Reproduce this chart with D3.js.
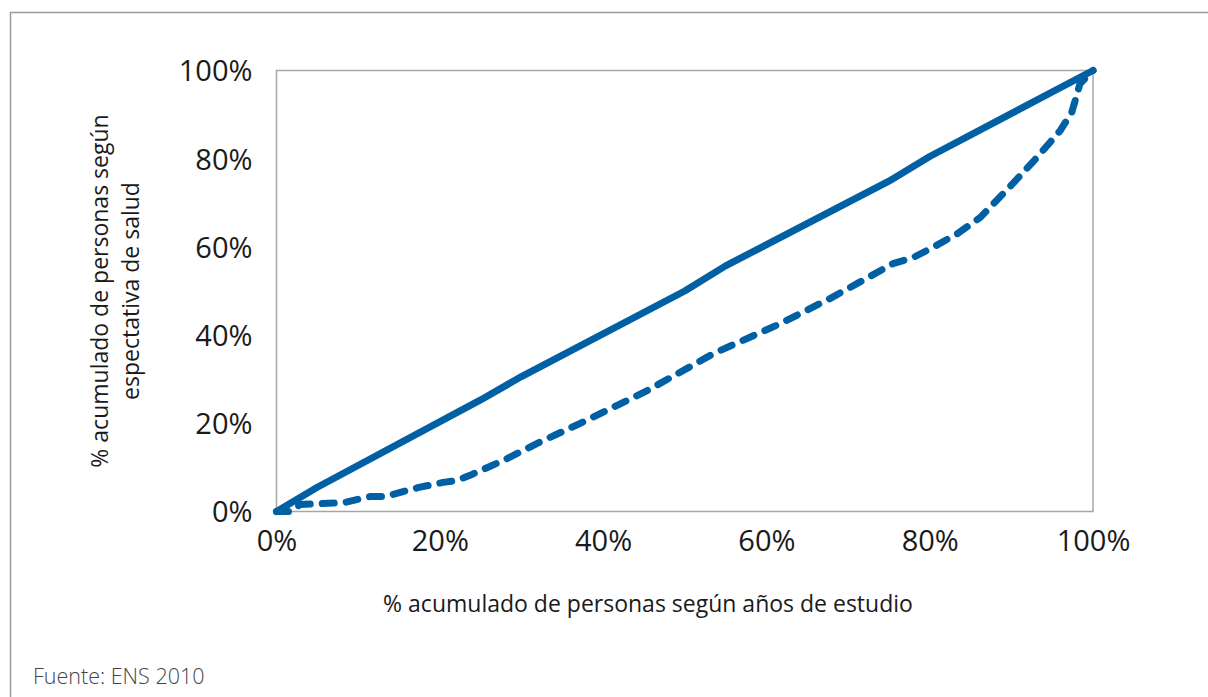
<!DOCTYPE html>
<html><head><meta charset="utf-8">
<script src="https://cdn.jsdelivr.net/npm/d3@7"></script>
<style>body{margin:0;background:#fff}svg{display:block}</style>
</head><body>
<svg id="c" width="1208" height="697"></svg>
<script>
// Solid line: equality-like curve (x %, y %)
const solidX = [0, 5, 25, 30, 50, 55, 75, 80, 100];
const solidY = [0, 5.5, 25.3, 30.6, 50, 55.7, 74.9, 80.5, 100];
// Dashed line: concentration curve
const dashX = [0, 1.7, 2.9, 8.2, 11.5, 13.3, 17.3, 20.4, 22, 23.7, 27.8, 32, 37.2, 45.4, 53.5, 61.7, 68, 75.5, 78, 80.4, 83.4, 86.2, 90.2, 93, 96, 97.4, 98.4, 100];
const dashY = [0, 0, 1.6, 2, 3.4, 3.4, 5.4, 6.6, 7, 8.2, 11.6, 15.5, 20, 27.4, 35.8, 42.6, 48.5, 56.2, 57.6, 59.9, 63, 66.7, 74.4, 80, 86.4, 90.5, 97, 100];
const ticks = [0, 20, 40, 60, 80, 100];
const xTitle = "% acumulado de personas según años de estudio";
const yTitle = ["% acumulado de personas según", "espectativa de salud"];
const source = "Fuente: ENS 2010";

const svg = d3.select("#c");
const font = "'Open Sans', sans-serif";
const m = {l: 276.5, t: 70.5, r: 1093, b: 511.5};
const x = d3.scaleLinear().domain([0, 100]).range([m.l, m.r]);
const y = d3.scaleLinear().domain([0, 100]).range([m.b, m.t]);

// outer frame
svg.append("rect").attr("x", 10.5).attr("y", 12.5).attr("width", 1220).attr("height", 720)
  .attr("fill", "none").attr("stroke", "#9a9a9a").attr("stroke-width", 1.5);

// plot frame
svg.append("rect").attr("x", m.l).attr("y", m.t).attr("width", m.r - m.l).attr("height", m.b - m.t)
  .attr("fill", "none").attr("stroke", "#a6a6a6").attr("stroke-width", 1.5);

const xAxis = svg.append("g").attr("transform", `translate(0,${m.b})`)
  .call(d3.axisBottom(x).tickValues(ticks).tickSize(0).tickPadding(13).tickFormat(d => d + "%"));
xAxis.select(".domain").remove();
xAxis.selectAll("text").attr("font-family", font).attr("font-size", 29).attr("fill", "#1a1a1a")
  .attr("dy", "0.92em");

const yAxis = svg.append("g").attr("transform", `translate(${m.l},0)`)
  .call(d3.axisLeft(y).tickValues(ticks).tickSize(0).tickPadding(24).tickFormat(d => d + "%"));
yAxis.select(".domain").remove();
yAxis.selectAll("text").attr("font-family", font).attr("font-size", 29).attr("fill", "#1a1a1a")
  .attr("dy", "0.36em");

const line = d3.line().x(d => x(d[0])).y(d => y(d[1]));
const solid = solidX.map((v, i) => [v, solidY[i]]);
const dashed = dashX.map((v, i) => [v, dashY[i]]);
const col = "#0060a3";

svg.append("path").attr("d", line(dashed)).attr("fill", "none").attr("stroke", col)
  .attr("stroke-width", 7).attr("stroke-linecap", "round").attr("stroke-linejoin", "round")
  .attr("stroke-dasharray", "12,12");
svg.append("path").attr("d", line(solid)).attr("fill", "none").attr("stroke", col)
  .attr("stroke-width", 7).attr("stroke-linecap", "round").attr("stroke-linejoin", "round");

svg.append("text").attr("x", 648).attr("y", 612).attr("text-anchor", "middle")
  .attr("font-family", font).attr("font-size", 23).attr("fill", "#1a1a1a").text(xTitle);

const yt = svg.append("text").attr("transform", `translate(108,${(m.t + m.b) / 2}) rotate(-90)`)
  .attr("text-anchor", "middle").attr("font-family", font).attr("font-size", 23).attr("fill", "#1a1a1a");
yTitle.forEach((s, i) => yt.append("tspan").attr("x", 0).attr("dy", i ? 31 : 0).text(s));

svg.append("text").attr("x", 33).attr("y", 684).attr("font-family", font).attr("font-weight", 300)
  .attr("font-size", 21.5).attr("fill", "#444").text(source);
</script>
</body></html>
